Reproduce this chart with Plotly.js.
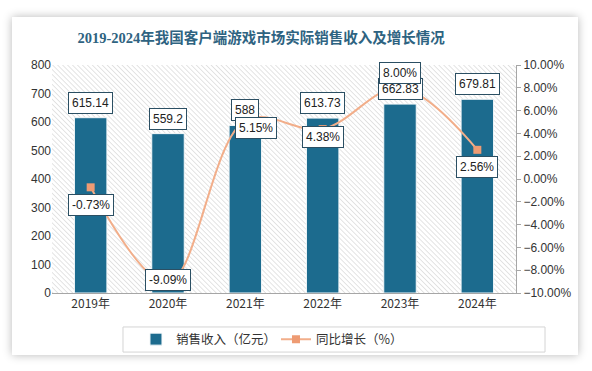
<!DOCTYPE html>
<html><head><meta charset="utf-8">
<script src="https://cdn.plot.ly/plotly-3.0.1.min.js"></script>
<style>
html,body{margin:0;padding:0;background:#fff;}
#card{position:absolute;left:12px;top:17px;width:566px;height:338px;background:#fff;box-shadow:0 0 9px rgba(0,0,0,0.28);}
#chart{position:absolute;left:0;top:0;width:592px;height:371px;}
</style></head>
<body>
<div id="card"></div>
<div id="chart"></div>
<script>
const years = ['2019年','2020年','2021年','2022年','2023年','2024年'];
const revenue = [615.14, 559.2, 588, 613.73, 662.83, 679.81];
const growth = [-0.73, -9.09, 5.15, 4.38, 8.00, 2.56];
const revenueLabels = ['615.14','559.2','588','613.73','662.83','679.81'];
const growthLabels = ['-0.73%','-9.09%','5.15%','4.38%','8.00%','2.56%'];

// label offsets (pixels) for growth labels
const gOff = [[0,-18],[0,3],[11,-8],[0,-8],[0,15],[0,-17]];

const svg = '<svg xmlns="http://www.w3.org/2000/svg" width="464" height="228">' +
  '<defs><pattern id="p" width="3.5" height="3.5" patternUnits="userSpaceOnUse" patternTransform="rotate(-45)">' +
  '<rect width="3.5" height="3.5" fill="#ffffff"/><line x1="0" y1="0" x2="0" y2="3.5" stroke="#d2d2d2" stroke-width="1.2"/></pattern></defs>' +
  '<rect width="464" height="228" fill="url(#p)"/></svg>';
const bgSrc = 'data:image/svg+xml;charset=utf-8,' + encodeURIComponent(svg);

const boxFont = {family:'Liberation Sans, Arial, sans-serif', size:12, color:'#222'};
const annotations = [];
years.forEach((y,i)=>{
  annotations.push({x:y, y:revenue[i], xref:'x', yref:'y', text:revenueLabels[i], showarrow:false,
    yanchor:'bottom', yshift:4, bgcolor:'#fff', bordercolor:'#2b4f63', borderwidth:1, borderpad:3, font:boxFont});
});
years.forEach((y,i)=>{
  annotations.push({x:y, y:growth[i], xref:'x', yref:'y2', text:growthLabels[i], showarrow:false,
    xshift:gOff[i][0], yshift:gOff[i][1], bgcolor:'#fff', bordercolor:'#2b4f63', borderwidth:1, borderpad:3, font:boxFont});
});

const traces = [
  {type:'bar', x:years, y:revenue, name:'销售收入（亿元）', width:0.42,
   marker:{color:'#1c6b8e', line:{color:'#f4f8fa', width:1}}, hoverinfo:'skip'},
  {type:'scatter', mode:'lines+markers', x:years, y:growth, yaxis:'y2', name:'同比增长（%）',
   line:{color:'#f2ae8a', width:2, shape:'spline', smoothing:1},
   marker:{symbol:'square', size:8, color:'#ee9b73'}, hoverinfo:'skip'}
];

const layout = {
  width:592, height:371,
  paper_bgcolor:'rgba(0,0,0,0)', plot_bgcolor:'rgba(0,0,0,0)',
  margin:{l:52, r:76, t:65, b:78},
  title:{text:'<b>2019-2024年我国客户端游戏市场实际销售收入及增长情况</b>', x:0.441, xref:'container', xanchor:'center',
    y:0.897, yref:'container', yanchor:'middle',
    font:{family:'Liberation Serif, Noto Sans CJK SC, serif', size:14.5, color:'#2e6381'}},
  font:{family:'Liberation Sans, Arial, sans-serif', size:12, color:'#333'},
  xaxis:{type:'category', showline:true, linecolor:'#a6a6a6', linewidth:1, ticks:'', showgrid:false,
    tickfont:{family:'Noto Sans CJK SC, sans-serif', size:12, color:'#333'}, fixedrange:true},
  yaxis:{range:[0,800], dtick:100, showgrid:false, zeroline:false, showline:false, ticks:'',
    tickfont:{size:12, color:'#333'}},
  yaxis2:{range:[-10,10], dtick:2, overlaying:'y', side:'right', showgrid:false, zeroline:false,
    showline:true, linecolor:'#a6a6a6', ticks:'outside', ticklen:4, tickcolor:'#a6a6a6',
    tickformat:'.2f', ticksuffix:'%', tickfont:{size:12, color:'#333'}},
  showlegend:true,
  legend:{orientation:'h', x:0.181, xanchor:'left', y:-0.204, yanchor:'middle',
    borderwidth:0, bgcolor:'rgba(0,0,0,0)', entrywidth:95, entrywidthmode:'pixels',
    font:{family:'Noto Sans CJK SC, sans-serif', size:12.5, color:'#333'}, itemwidth:30, traceorder:'normal'},
  shapes:[{type:'rect', xref:'paper', yref:'paper', x0:0.153, x1:1.0625, y0:-0.149, y1:-0.259,
    line:{color:'#d4d4d4', width:1}, fillcolor:'#ffffff', layer:'below'}],
  images:[{source:bgSrc, xref:'paper', yref:'paper', x:0, y:1, sizex:1, sizey:1,
    sizing:'stretch', xanchor:'left', yanchor:'top', layer:'below'}],
  annotations:annotations,
  bargap:0.58
};
Plotly.newPlot('chart', traces, layout, {displayModeBar:false, staticPlot:true});
</script>
</body></html>
